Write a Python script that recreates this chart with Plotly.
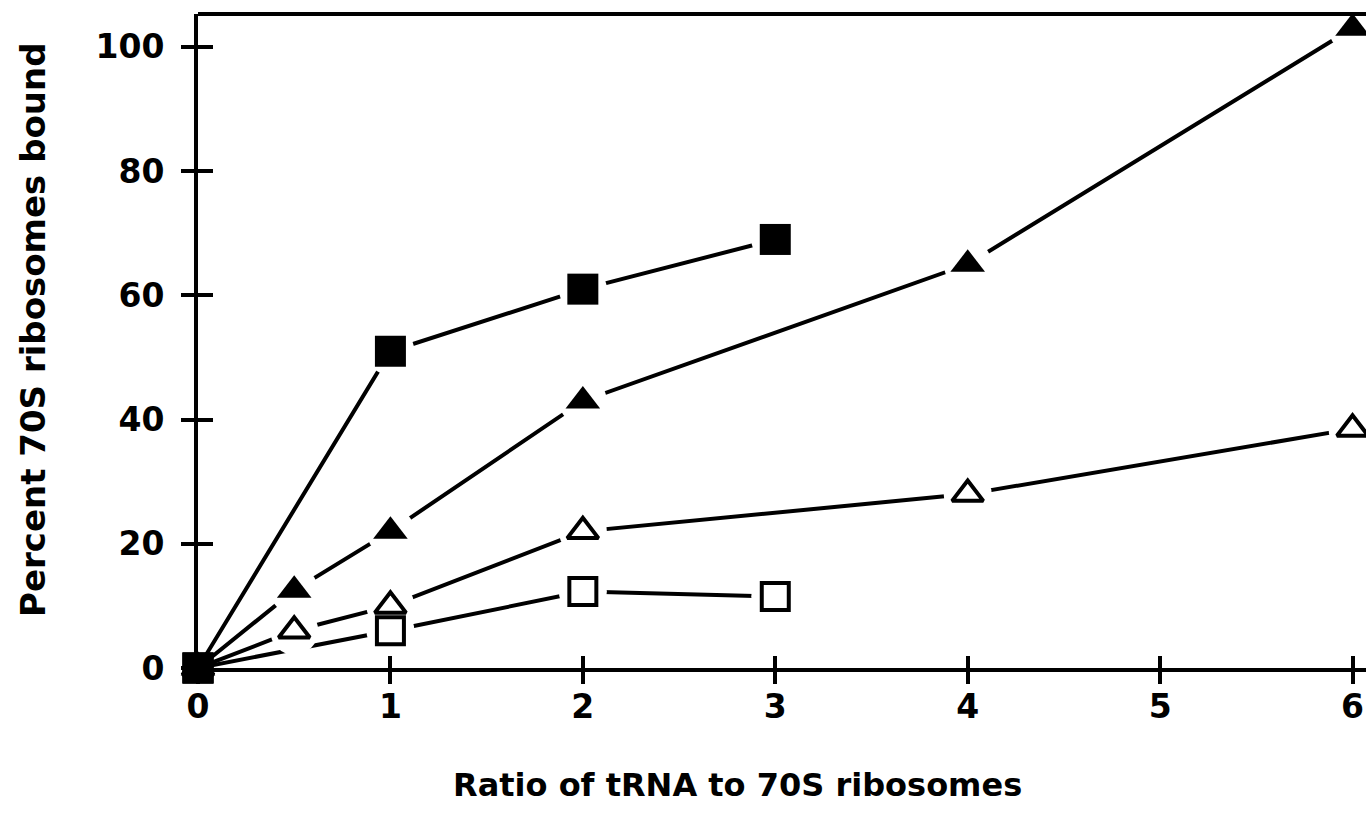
import plotly.graph_objects as go

# Data
x_fill_sq = [0, 1, 2, 3]
y_fill_sq = [0, 51, 61, 69]
x_fill_tri = [0, 0.5, 1, 2, 4, 6]
y_fill_tri = [0, 12.5, 22, 43, 65, 103]
x_open_tri = [0, 0.5, 1, 2, 4, 6]
y_open_tri = [0, 6, 10, 22, 28, 38.5]
x_open_sq = [0, 1, 2, 3]
y_open_sq = [0, 6, 12.3, 11.5]

x_ticks = [0, 1, 2, 3, 4, 5, 6]
y_ticks = [0, 20, 40, 60, 80, 100]

FONT = "DejaVu Sans"
series = [
    (x_fill_sq, y_fill_sq, "square", True),
    (x_fill_tri, y_fill_tri, "triangle-up", True),
    (x_open_tri, y_open_tri, "triangle-up", False),
    (x_open_sq, y_open_sq, "square", False),
]

fig = go.Figure()
# lines
for xs, ys, sym, filled in series:
    fig.add_trace(go.Scatter(x=xs, y=ys, mode="lines",
                             line=dict(color="black", width=4),
                             showlegend=False, cliponaxis=False))
# white halos to create gaps near markers
for xs, ys, sym, filled in series:
    fig.add_trace(go.Scatter(x=xs[1:], y=ys[1:], mode="markers",
                             marker=dict(symbol="circle", size=48,
                                         color="white", line=dict(width=0)),
                             showlegend=False, cliponaxis=False))
# markers
for xs, ys, sym, filled in series:
    if sym == "square":
        sz = 31 if filled else 27
    else:
        sz = 30 if filled else 27
    fig.add_trace(go.Scatter(x=xs, y=ys, mode="markers",
                             marker=dict(symbol=sym, size=sz,
                                         color="black" if filled else "white",
                                         line=dict(color="black", width=0 if filled else 4)),
                             showlegend=False, cliponaxis=False))
# origin filled square on top
fig.add_trace(go.Scatter(x=[x_fill_sq[0]], y=[y_fill_sq[0]], mode="markers",
                         marker=dict(symbol="square", size=31, color="black"),
                         showlegend=False, cliponaxis=False))

xr = [0, 6.07]
yr = [0, 105.3]
tickfont = dict(family=FONT, size=33, color="black", weight="bold")

fig.update_layout(
    width=1366, height=816,
    margin=dict(l=198, r=0, t=14, b=148),
    paper_bgcolor="white", plot_bgcolor="white",
    font=dict(family=FONT, color="black"),
    xaxis=dict(range=xr, tickvals=x_ticks, ticktext=[str(v) for v in x_ticks],
               ticks="outside", ticklen=12, tickwidth=4, tickcolor="black",
               showline=True, linewidth=4, linecolor="black",
               showgrid=False, zeroline=False, tickfont=tickfont, ticklabelstandoff=-6),
    yaxis=dict(range=yr, tickvals=y_ticks, ticktext=[str(v) for v in y_ticks],
               ticks="outside", ticklen=13, tickwidth=4, tickcolor="black",
               showline=True, linewidth=4, linecolor="black",
               showgrid=False, zeroline=False, tickfont=tickfont, ticklabelstandoff=10),
    xaxis2=dict(range=xr, overlaying="x", tickvals=x_ticks, showticklabels=False,
                ticks="inside", ticklen=12, tickwidth=4, tickcolor="black",
                showline=False, showgrid=False, zeroline=False, side="bottom"),
    yaxis2=dict(range=yr, overlaying="y", tickvals=y_ticks, showticklabels=False,
                ticks="inside", ticklen=15, tickwidth=4, tickcolor="black",
                showline=False, showgrid=False, zeroline=False, side="left"),
    shapes=[dict(type="line", xref="paper", yref="paper", x0=0, x1=1, y0=1, y1=1,
                 line=dict(color="black", width=4))],
    annotations=[
        dict(text="Ratio of tRNA to 70S ribosomes", xref="paper", yref="paper",
             x=(737 - 198) / 1168, y=-(785 - 668) / 654, xanchor="center", yanchor="middle",
             showarrow=False, font=dict(family=FONT, size=32, color="black", weight="bold")),
        dict(text="Percent 70S ribosomes bound", xref="paper", yref="paper",
             x=-(198 - 33) / 1168, y=(668 - 330) / 654, xanchor="center", yanchor="middle",
             textangle=-90, showarrow=False,
             font=dict(family=FONT, size=34, color="black", weight="bold")),
    ],
)
# dummy trace to activate secondary axes
fig.add_trace(go.Scatter(x=[None], y=[None], xaxis="x2", yaxis="y2", showlegend=False))

fig.write_html("out.html")
